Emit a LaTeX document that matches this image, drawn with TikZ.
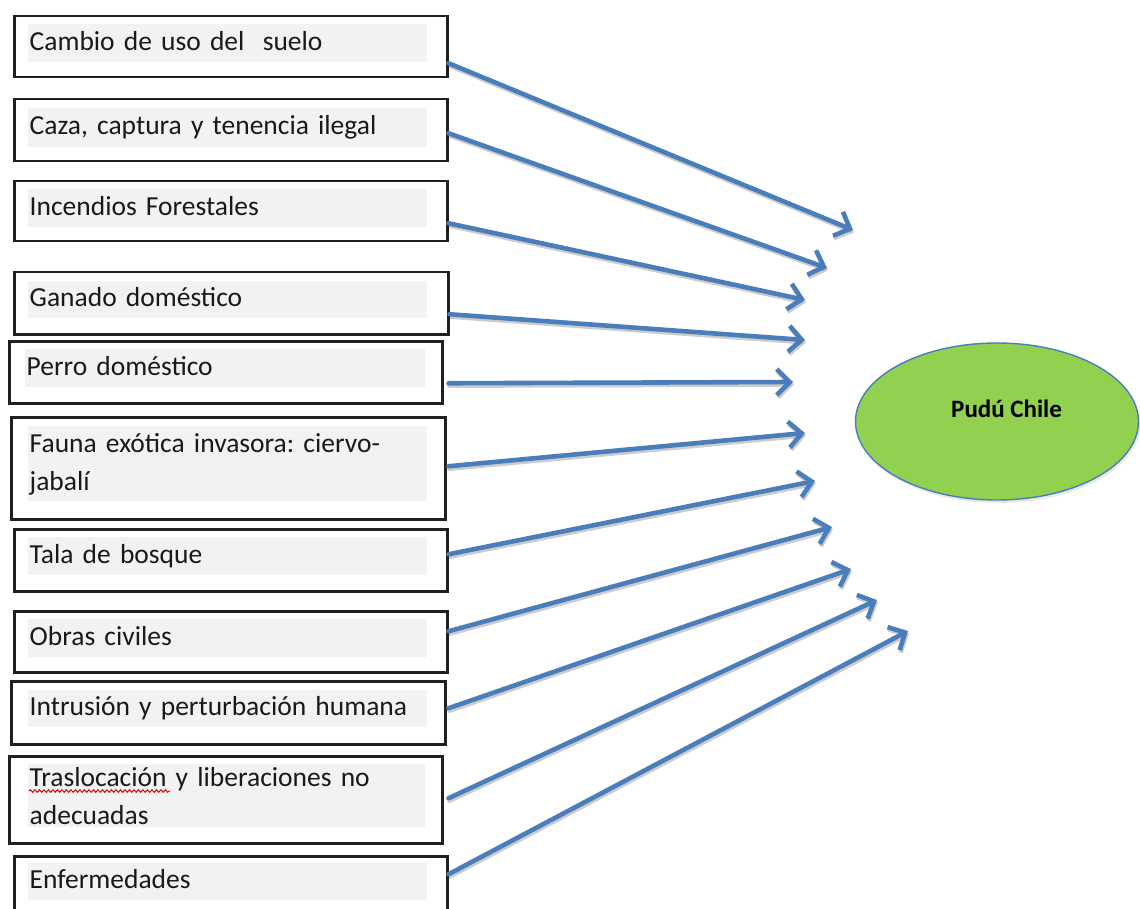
\documentclass[tikz,border=0pt]{standalone}
\usepackage{fontspec}
\setmainfont{Carlito}
\usetikzlibrary{arrows.meta,shapes.geometric,shadows,decorations.pathmorphing}

\definecolor{arrowblue}{HTML}{4A7EBB}
\definecolor{bandgray}{HTML}{F2F2F2}
\definecolor{pudugreen}{HTML}{92D050}

% one arrow: a soft grey shadow first, then the blue arrow on top
\newcommand\threatarrow[2]{%
  \draw[threat, draw=black, opacity=0.2, transform canvas={xshift=1pt,yshift=-2.4pt}] #1 -- #2;
  \draw[threat] #1 -- #2;}

\frenchspacing
\begin{document}
\begin{tikzpicture}[x=1pt,y=-1pt,
  frame/.style={draw=black!88, line width=2.5pt, rectangle, inner sep=0pt, anchor=north west},
  band/.style={fill=bandgray, inner xsep=1.5pt, inner ysep=0pt, anchor=north west,
               align=left, font=\fontsize{27.5}{38}\selectfont, text height=20pt,
               text=black!90},
  oneline/.style={text depth=6pt},
  threat/.style={draw=arrowblue, line width=4.6pt, line cap=round,
                 -{Straight Barb[length=13pt,width=26pt,line width=4.6pt]}}
]
\useasboundingbox (0,0) rectangle (1140,909);
\clip (0,0) rectangle (1140,909);

% threat boxes: outer frame, grey text band
\node[frame, minimum width=433pt, minimum height=61pt] (b1) at (13,15) {};
\node[band, oneline, minimum width=399pt, minimum height=38pt, text width=396pt] (t1) at (28,24) {Cambio de uso del \ suelo};

\node[frame, minimum width=433pt, minimum height=62pt] (b2) at (13,98) {};
\node[band, oneline, minimum width=399pt, minimum height=39pt, text width=396pt] (t2) at (28,108) {Caza, captura y tenencia ilegal};

\node[frame, minimum width=433pt, minimum height=60pt] (b3) at (13,180) {};
\node[band, oneline, minimum width=399pt, minimum height=38pt, text width=396pt] (t3) at (28,189) {Incendios Forestales};

\node[frame, minimum width=434pt, minimum height=62pt] (b4) at (13,271) {};
\node[band, oneline, minimum width=399pt, minimum height=37pt, text width=396pt] (t4) at (28,281) {Ganado doméstico};

\node[frame, minimum width=433pt, minimum height=62pt] (b5) at (8,340) {};
\node[band, oneline, minimum width=400pt, minimum height=38pt, text width=397pt] (t5) at (25,349) {Perro doméstico};

\node[frame, minimum width=434pt, minimum height=102pt] (b6) at (10,416) {};
\node[band, minimum width=399pt, minimum height=75pt, text width=396pt] (t6) at (28,426) {Fauna exótica invasora: ciervo-\\jabalí};

\node[frame, minimum width=433pt, minimum height=62pt] (b7) at (13,528) {};
\node[band, oneline, minimum width=399pt, minimum height=38pt, text width=396pt] (t7) at (28,537) {Tala de bosque};

\node[frame, minimum width=433pt, minimum height=61pt] (b8) at (13,610) {};
\node[band, oneline, minimum width=399pt, minimum height=38pt, text width=396pt] (t8) at (28,619) {Obras civiles};

\node[frame, minimum width=434pt, minimum height=63pt] (b9) at (10,680) {};
\node[band, oneline, minimum width=399pt, minimum height=37pt, text width=396pt] (t9) at (28,690) {Intrusión y perturbación humana};

\node[frame, minimum width=433pt, minimum height=87pt] (b10) at (8,755) {};
\node[band, minimum width=397pt, minimum height=63pt, text width=394pt] (t10) at (28,764) {Traslocación y liberaciones no\\adecuadas};
% spell-check squiggle under the first word
\draw[red!85!black, line width=1pt, decorate,
      decoration={snake, amplitude=1.2pt, segment length=4.5pt}] (29,791) -- (170,791);

\node[frame, minimum width=433pt, minimum height=62pt] (b11) at (13,855) {};
\node[band, oneline, minimum width=399pt, minimum height=37pt, text width=396pt] (t11) at (28,863) {Enfermedades};

% target
\node[ellipse, draw=arrowblue, line width=1.4pt, fill=pudugreen, inner sep=0pt,
      minimum width=283pt, minimum height=157pt,
      drop shadow={shadow xshift=1.5pt, shadow yshift=-3pt, opacity=0.18}] (pudu) at (997,421.5) {};
\node[anchor=base west, inner sep=0pt, font=\bfseries\fontsize{25}{30}\selectfont] (puduname) at (951,417) {Pudú Chile};

% arrow tips
\coordinate (e1) at (853,230);
\coordinate (e2) at (827,268);
\coordinate (e3) at (805,300);
\coordinate (e4) at (805,340);
\coordinate (e5) at (793,382);
\coordinate (e6) at (805,433);
\coordinate (e7) at (815,481);
\coordinate (e8) at (832,527);
\coordinate (e9) at (851,569);
\coordinate (e10) at (877,600);
\coordinate (e11) at (908,631);

\threatarrow{([yshift=-16.5pt]b1.east)}{(e1)}
\threatarrow{([yshift=-3pt]b2.east)}{(e2)}
\threatarrow{([yshift=-12pt]b3.east)}{(e3)}
\threatarrow{([yshift=-11pt]b4.east)}{(e4)}
\threatarrow{([xshift=5pt,yshift=-11pt]b5.east)}{(e5)}
\threatarrow{([xshift=2pt,yshift=2pt]b6.east)}{(e6)}
\threatarrow{([yshift=6pt]b7.east)}{(e7)}
\threatarrow{([yshift=10.5pt]b8.east)}{(e8)}
\threatarrow{([xshift=2pt,yshift=4.5pt]b9.east)}{(e9)}
\threatarrow{([xshift=5pt,yshift=1.5pt]b10.east)}{(e10)}
\threatarrow{([yshift=13pt]b11.east)}{(e11)}
\end{tikzpicture}
\end{document}
